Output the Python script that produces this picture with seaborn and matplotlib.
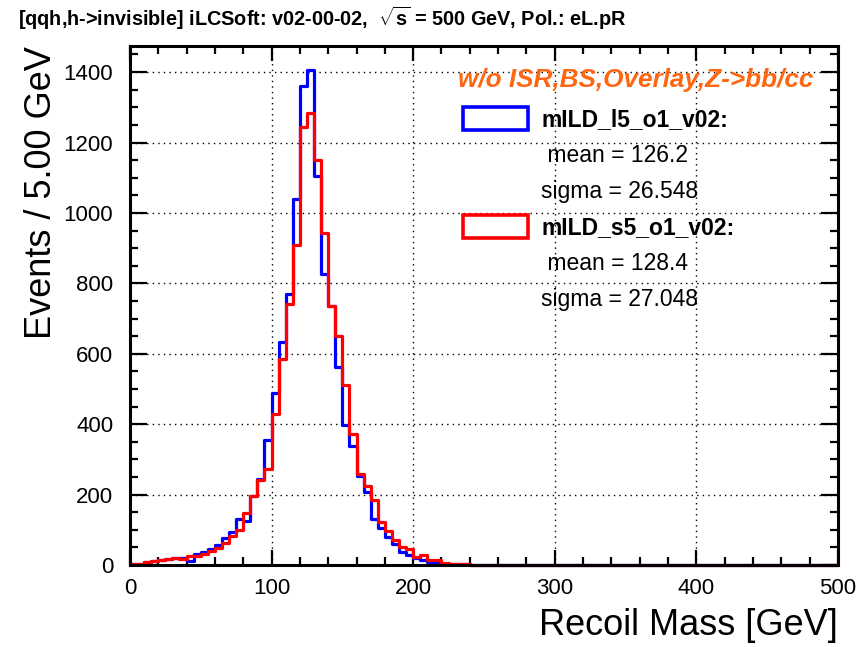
import numpy as np
import pandas as pd
import matplotlib
matplotlib.use("Agg")
import matplotlib.pyplot as plt
import seaborn as sns
from matplotlib.patches import Patch
from matplotlib.lines import Line2D
from matplotlib.ticker import MultipleLocator

# recoil mass histogram, 5 GeV bins from 0 to 500
bin_edges = np.arange(0, 505, 5)
bin_centers = bin_edges[:-1] + 2.5

counts_l5 = [2, 4, 8, 11, 15, 16, 20, 19, 12, 31,
             37, 46, 58, 78, 95, 130, 126, 195, 245, 354,
             488, 632, 770, 1040, 1360, 1405, 1105, 827, 736, 562,
             399, 337, 254, 206, 130, 105, 81, 60, 38, 28,
             20, 15, 9, 6, 4, 3, 2, 2, 1, 1,
             1, 0, 0, 0, 0, 0, 0, 0, 0, 0,
             0, 0, 0, 0, 0, 0, 0, 0, 0, 0,
             0, 0, 0, 0, 0, 0, 0, 0, 0, 0,
             0, 0, 0, 0, 0, 0, 0, 0, 0, 0,
             0, 0, 0, 0, 0, 0, 0, 0, 0, 0]
counts_s5 = [2, 4, 8, 11, 15, 18, 20, 16, 26, 25,
             30, 40, 48, 62, 82, 100, 147, 195, 242, 274,
             428, 585, 741, 908, 1245, 1285, 1150, 944, 736, 650,
             510, 371, 259, 225, 185, 123, 98, 71, 52, 45,
             23, 28, 14, 14, 6, 4, 3, 2, 1, 1,
             0, 0, 0, 0, 0, 0, 0, 0, 0, 0,
             0, 0, 0, 0, 0, 0, 0, 0, 0, 0,
             0, 0, 0, 0, 0, 0, 0, 0, 0, 0,
             0, 0, 0, 0, 0, 0, 0, 0, 0, 0,
             0, 0, 0, 0, 0, 0, 0, 0, 0, 0]

labels = ["mILD_l5_o1_v02:", "mILD_s5_o1_v02:"]
means = ["126.2", "128.4"]
sigmas = ["26.548", "27.048"]
colors = ["blue", "red"]

hist = pd.DataFrame({"mass": bin_centers, "l5": counts_l5, "s5": counts_s5})

sns.set_theme(style="ticks")
plt.rcParams['font.family'] = ['Liberation Sans', 'DejaVu Sans']
plt.rcParams['mathtext.fontset'] = 'custom'
plt.rcParams['mathtext.rm'] = 'Liberation Sans'
plt.rcParams['mathtext.bf'] = 'Liberation Sans:bold'
plt.rcParams['text.color'] = 'black'
plt.rcParams['axes.labelcolor'] = 'black'

fig = plt.figure(figsize=(8.66, 6.47), dpi=100)
ax = fig.add_axes([0.150, 0.1267, 0.8177, 0.8027])

for col, c in zip(["l5", "s5"], colors):
    sns.histplot(data=hist, x="mass", weights=col, bins=list(bin_edges), element="step",
                 fill=False, color=c, linewidth=2.3, ax=ax)
for ln in ax.lines:
    ln.set_clip_on(False)

ax.set_xlim(0, 500)
ax.set_ylim(0, 1475)
ax.xaxis.set_major_locator(MultipleLocator(100))
ax.xaxis.set_minor_locator(MultipleLocator(20))
ax.yaxis.set_major_locator(MultipleLocator(200))
ax.yaxis.set_minor_locator(MultipleLocator(50))
ax.grid(True, which="major", color="black", linestyle=(0, (1, 3)), linewidth=1.0)

for s in ax.spines.values():
    s.set_linewidth(2.2)
    s.set_color("black")
ax.tick_params(axis="both", which="both", direction="in", top=True, right=True,
               colors="black", labelcolor="black", labelsize=16, width=1.6)
ax.tick_params(axis="y", which="major", length=12, pad=12)
ax.tick_params(axis="y", which="minor", length=6)
ax.tick_params(axis="x", which="major", length=11, pad=9)
ax.tick_params(axis="x", which="minor", length=5.5)

ax.set_xlabel("Recoil Mass [GeV]", fontsize=26, loc="right", labelpad=7)
ax.set_ylabel("Events / 5.00 GeV", fontsize=26, loc="top", labelpad=3)

fig.text(0.021, 0.972, r"[qqh,h->invisible] iLCSoft: v02-00-02,  $\mathbf{\sqrt{s}}$ = 500 GeV, Pol.: eL.pR",
         fontsize=14.3, fontweight="bold", ha="left", va="center")

ax.text(0.463, 0.934, "w/o ISR,BS,Overlay,Z->bb/cc", transform=ax.transAxes,
        fontsize=18.8, fontweight="bold", style="italic", color="#ff6611",
        ha="left", va="center")

blank = Line2D([], [], linestyle="none")
handles, texts = [], []
for lab, m, sg, c in zip(labels, means, sigmas, colors):
    handles += [Patch(facecolor="white", edgecolor=c, linewidth=2.6), blank, blank]
    texts += [lab, " mean = " + m, "sigma = " + sg]
leg = ax.legend(handles, texts, loc="upper left", bbox_to_anchor=(0.458, 0.9),
                frameon=False, fontsize=16.5, handlelength=2.8, handleheight=1.15,
                handletextpad=0.6, labelspacing=0.52, borderaxespad=0)
for i, t in enumerate(leg.get_texts()):
    t.set_color("black")
    if i % 3 == 0:
        t.set_fontweight("bold")

fig.savefig("out.png", dpi=100)
